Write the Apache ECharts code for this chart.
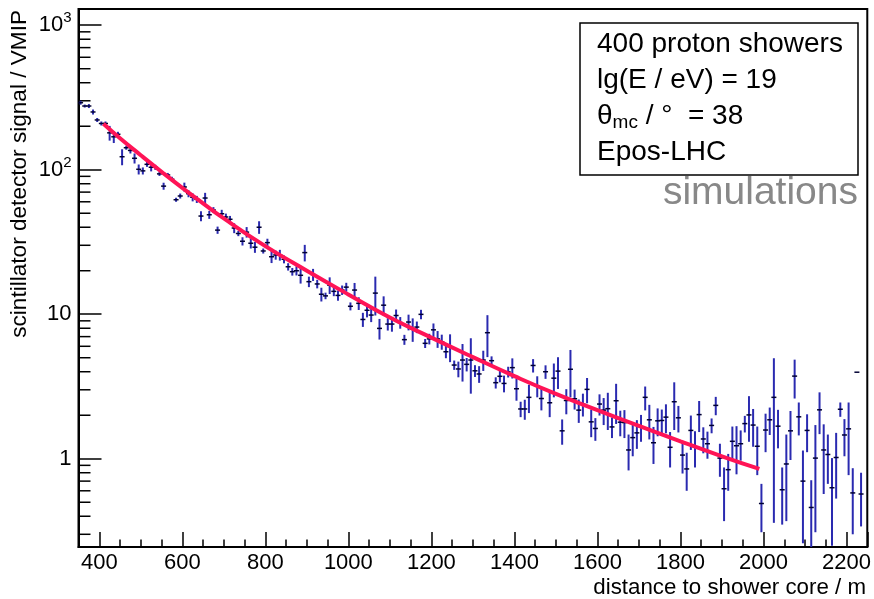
<!DOCTYPE html>
<html>
<head>
<meta charset="utf-8">
<script src="https://cdn.jsdelivr.net/npm/echarts@6/dist/echarts.min.js"></script>
<style>
  html, body { margin: 0; padding: 0; background: #fff; }
  #chart { width: 874px; height: 599px; }
</style>
</head>
<body>
<div id="chart"></div>
<script>
// Lateral distribution: mean scintillator signal per 10 m distance bin
const distance = [
  355, 365, 375, 385, 395, 405, 415, 425, 435, 445,
  455, 465, 475, 485, 495, 505, 515, 525, 535, 545,
  555, 565, 575, 585, 595, 605, 615, 625, 635, 645,
  655, 665, 675, 685, 695, 705, 715, 725, 735, 745,
  755, 765, 775, 785, 795, 805, 815, 825, 835, 845,
  855, 865, 875, 885, 895, 905, 915, 925, 935, 945,
  955, 965, 975, 985, 995, 1005, 1015, 1025, 1035, 1045,
  1055, 1065, 1075, 1085, 1095, 1105, 1115, 1125, 1135, 1145,
  1155, 1165, 1175, 1185, 1195, 1205, 1215, 1225, 1235, 1245,
  1255, 1265, 1275, 1285, 1295, 1305, 1315, 1325, 1335, 1345,
  1355, 1365, 1375, 1385, 1395, 1405, 1415, 1425, 1435, 1445,
  1455, 1465, 1475, 1485, 1495, 1505, 1515, 1525, 1535, 1545,
  1555, 1565, 1575, 1585, 1595, 1605, 1615, 1625, 1635, 1645,
  1655, 1665, 1675, 1685, 1695, 1705, 1715, 1725, 1735, 1745,
  1755, 1765, 1775, 1785, 1795, 1805, 1815, 1825, 1835, 1845,
  1855, 1865, 1875, 1885, 1895, 1905, 1915, 1925, 1935, 1945,
  1955, 1965, 1975, 1985, 1995, 2005, 2015, 2025, 2035, 2045,
  2055, 2065, 2075, 2085, 2095, 2105, 2115, 2125, 2135, 2145,
  2155, 2165, 2175, 2185, 2195, 2205, 2215, 2225, 2235
];

const signal = [
  291, 276, 276, 251, 221, 209, 209, 180, 169, 176,
  123, 142, 136, 120, 100.7, 98.2, 109, 104, 104, 93.6,
  77, 92, 86, 62, 65.8, 76, 68.3, 64.5, 62.4, 47.8,
  63.7, 48.8, 52.6, 38.2, 49.6, 47.1, 45.4, 39.5, 36.2, 32,
  37, 31, 29.1, 40, 27.4, 31.3, 25, 25.7, 25.7, 24,
  21.3, 19.7, 20, 18.6, 26.7, 16.8, 18.8, 16.2, 13.75, 13.4,
  15.9, 14.4, 13.5, 14.7, 15.4, 11.35, 14.7, 11.9, 9.2, 10.65,
  9.87, 14.0, 7.98, 11.55, 8.55, 8.55, 9.8, 8.75, 6.67, 8.83,
  7.9, 8.15, 9.98, 6.29, 6.75, 7.8, 6.75, 6.45, 5.5, 5.96,
  4.45, 4.18, 4.82, 4.5, 4.82, 4.06, 3.86, 4.82, 7.45, 4.77,
  3.36, 3.72, 3.32, 3.99, 4.27, 3.05, 2.21, 2.21, 2.66, 4.42,
  3.19, 2.61, 4.0, 2.44, 3.61, 4.04, 1.56, 2.53, 4.16, 2.6,
  2.17, 2.39, 3.02, 1.8, 1.62, 2.39, 2.17, 2.22, 1.66, 2.52,
  1.79, 1.78, 1.15, 1.4, 1.51, 1.66, 2.66, 1.86, 1.29, 1.83,
  1.84, 1.94, 1.2, 2.48, 1.92, 1.06, 0.85, 1.57, 1.21, 2.02,
  1.37, 1.27, 1.7, 2.34, 1.01, 0.62, 0.84, 1.32, 1.23, 1.27,
  1.75, 2.01, 1.71, 1.22, 0.49, 1.58, 1.86, 2.66, 1.68, 0.61,
  0.92, 1.56, 3.73, 1.95, 0.7, 1.57, 0.46, 1.01, 2.18, 1.15,
  1.07, 0.63, 1.02, 2.2, 1.46, 1.61, 0.58, 3.97, 0.57
];

const signalErr = [
  9, 6.6, 8.8, 10, 7, 6.7, 6.7, 21, 16, 7,
  15.6, 4.5, 6.5, 9.6, 8, 5.5, 4.3, 6.6, 4.2, 3,
  4.3, 3, 3.4, 2, 2.6, 5.4, 3.8, 4.1, 3.5, 3.8,
  5.5, 3.1, 2.5, 2.2, 3.2, 2.6, 2.5, 3.1, 1.5, 2.1,
  3.1, 2.5, 2.5, 4, 1.1, 2, 2.4, 1.85, 2.2, 1.5,
  1.25, 1.2, 1.45, 2.3, 3.5, 1.4, 1.8, 1.1, 1.5, 0.7,
  2.1, 1.07, 1.1, 1.1, 1.1, 0.72, 1.76, 1.2, 1.03, 1.14,
  1.05, 4.2, 1.3, 1.75, 0.84, 0.98, 0.98, 0.81, 0.53, 1.1,
  1.46, 0.75, 0.75, 0.45, 0.57, 0.83, 0.9, 0.77, 0.54, 1.3,
  0.33, 0.52, 1.4, 0.48, 2.0, 0.38, 0.51, 0.77, 2.4, 0.34,
  0.3, 0.34, 0.44, 0.34, 0.68, 0.53, 0.27, 0.35, 0.59, 0.47,
  0.53, 0.45, 0.43, 0.5, 0.95, 1.0, 0.31, 0.5, 1.5, 0.41,
  0.4, 0.43, 0.6, 0.39, 0.29, 0.4, 0.46, 0.64, 0.27, 0.78,
  0.36, 0.39, 0.32, 0.36, 0.34, 0.35, 0.5, 0.5, 0.37, 0.4,
  0.35, 0.44, 0.33, 0.9, 0.4, 0.27, 0.25, 0.42, 0.34, 0.49,
  0.28, 0.27, 0.2, 0.34, 0.26, 0.25, 0.24, 0.35, 0.45, 0.3,
  0.23, 0.7, 0.5, 0.45, 0.18, 0.47, 0.4, 2.3, 0.5, 0.26,
  0.55, 0.58, 1.12, 0.5, 0.44, 0.46, 0.25, 0.7, 0.7, 0.58,
  0.4, 0.38, 0.49, 0.25, 0.42, 0.84, 0.28, 0, 0.23
];

// Fitted lateral distribution function, sampled along distance
const fitDistance = [410, 450, 500, 550, 600, 650, 700, 800, 900, 1000, 1100, 1200, 1300, 1400, 1500, 1600, 1700, 1800, 1900, 1990];
const fitSignal   = [208, 165, 126, 96.8, 74.9, 58.5, 46.0, 29.6, 20.0, 13.7, 9.49, 6.89, 5.05, 3.73, 2.81, 2.17, 1.69, 1.32, 1.04, 0.85];

// Axis ranges and log-axis minor tick positions
const xRange = [350, 2250];
const yRange = [0.245, 1295];
const yMinorTicks = [0.3, 0.4, 0.5, 0.6, 0.7, 0.8, 0.9, 2, 3, 4, 5, 6, 7, 8, 9,
                     20, 30, 40, 50, 60, 70, 80, 90, 200, 300, 400, 500, 600, 700, 800, 900];

const infoLines = ['400 proton showers', 'lg(E / eV) = 19', 'θ{sub|mc} / °  = 38', 'Epos-LHC'];

const FONT = '"Liberation Sans", Arial, Helvetica, sans-serif';
const chart = echarts.init(document.getElementById('chart'), null, { renderer: 'canvas' });

const points = distance.map((r, i) => [r, signal[i], signalErr[i]]);
const fitLine = fitDistance.map((r, i) => [r, fitSignal[i]]);

chart.setOption({
  animation: false,
  backgroundColor: '#fff',
  grid: {
    left: 78.5, right: 3.8, top: 9, bottom: 52,
    show: true, borderColor: '#000', borderWidth: 2, backgroundColor: 'transparent'
  },
  xAxis: {
    type: 'value',
    min: xRange[0], max: xRange[1],
    splitNumber: 10,
    axisLine: { show: true, lineStyle: { color: '#000', width: 2 } },
    axisTick: { show: true, inside: true, length: 15, lineStyle: { color: '#000', width: 1.5 } },
    minorTick: { show: true, splitNumber: 4, length: 7.5, lineStyle: { color: '#000', width: 1.5 } },
    splitLine: { show: false },
    axisLabel: {
      show: true, margin: 5, color: '#000', fontSize: 22, fontFamily: FONT,
      showMinLabel: false, showMaxLabel: false,
      formatter: function (v) { return String(v); }
    }
  },
  yAxis: {
    type: 'log', logBase: 10,
    min: yRange[0], max: yRange[1],
    axisLine: { show: true, lineStyle: { color: '#000', width: 2 } },
    axisTick: { show: true, inside: true, length: 23, lineStyle: { color: '#000', width: 1.5 } },
    splitLine: { show: false },
    axisLabel: {
      show: true, margin: 7, color: '#000', fontSize: 22, fontFamily: FONT,
      showMinLabel: false, showMaxLabel: false,
      formatter: function (v) {
        const k = Math.round(Math.log10(v));
        if (k >= 2) return '10{sup|' + k + '}';
        return String(Math.round(v));
      },
      rich: {
        sup: { fontSize: 15, fontFamily: FONT, color: '#000', padding: [0, 0, 14, 0] }
      }
    }
  },
  series: [
    {
      // short minor ticks on the log axis (2..9 per decade)
      type: 'custom',
      silent: true,
      data: yMinorTicks.map(v => [xRange[0], v]),
      renderItem: function (params, api) {
        const c = api.coord([api.value(0), api.value(1)]);
        return {
          type: 'line',
          shape: { x1: c[0], y1: c[1], x2: c[0] + 12, y2: c[1] },
          style: { stroke: '#000', lineWidth: 1.5 }
        };
      },
      z: 3
    },
    {
      // measured signals with vertical error bars
      type: 'custom',
      data: points,
      encode: { x: 0, y: 1 },
      renderItem: function (params, api) {
        const r = api.value(0), v = api.value(1), e = api.value(2);
        const lo = Math.max(v - e, yRange[0]);
        const hi = Math.min(v + e, yRange[1]);
        const c = api.coord([r, v]);
        const top = api.coord([r, hi]);
        const bot = api.coord([r, lo]);
        const children = [];
        if (e > 0) {
          children.push({
            type: 'line',
            shape: { x1: c[0], y1: top[1], x2: c[0], y2: bot[1] },
            style: { stroke: '#2a2ab0', lineWidth: 2 }
          });
        }
        children.push({
          type: 'line',
          shape: { x1: c[0] - 2.5, y1: c[1], x2: c[0] + 2.5, y2: c[1] },
          style: { stroke: '#000033', lineWidth: 1.5 }
        });
        return { type: 'group', children: children };
      },
      z: 4
    },
    {
      type: 'line',
      data: fitLine,
      smooth: true,
      showSymbol: false,
      symbol: 'none',
      lineStyle: { color: '#ff1456', width: 4 },
      z: 5
    }
  ],
  graphic: [
    {
      type: 'text',
      x: 20, y: 10,
      rotation: Math.PI / 2,
      style: {
        text: 'scintillator detector signal / VMIP',
        font: '22.6px ' + FONT, fill: '#000',
        textAlign: 'right', textVerticalAlign: 'middle'
      }
    },
    {
      type: 'text',
      x: 866, y: 588,
      style: {
        text: 'distance to shower core / m',
        font: '22.3px ' + FONT, fill: '#000',
        textAlign: 'right', textVerticalAlign: 'middle'
      }
    },
    {
      type: 'rect',
      shape: { x: 580, y: 23, width: 278, height: 152 },
      style: { fill: '#fff', stroke: '#000', lineWidth: 1.5 },
      z: 10
    },
    ...infoLines.map((t, i) => ({
      type: 'text',
      x: 597, y: 44 + i * 36.2,
      z: 11,
      style: {
        text: t,
        font: '28px ' + FONT, fill: '#000',
        textAlign: 'left', textVerticalAlign: 'middle',
        rich: {
          sub: { fontSize: 19, fontFamily: FONT, fill: '#000', padding: [12, 0, 0, 0] }
        }
      }
    })),
    {
      type: 'text',
      x: 858, y: 193, z: 11,
      style: {
        text: 'simulations',
        font: '39px ' + FONT, fill: '#888888',
        textAlign: 'right', textVerticalAlign: 'middle'
      }
    }
  ]
});
</script>
</body>
</html>
